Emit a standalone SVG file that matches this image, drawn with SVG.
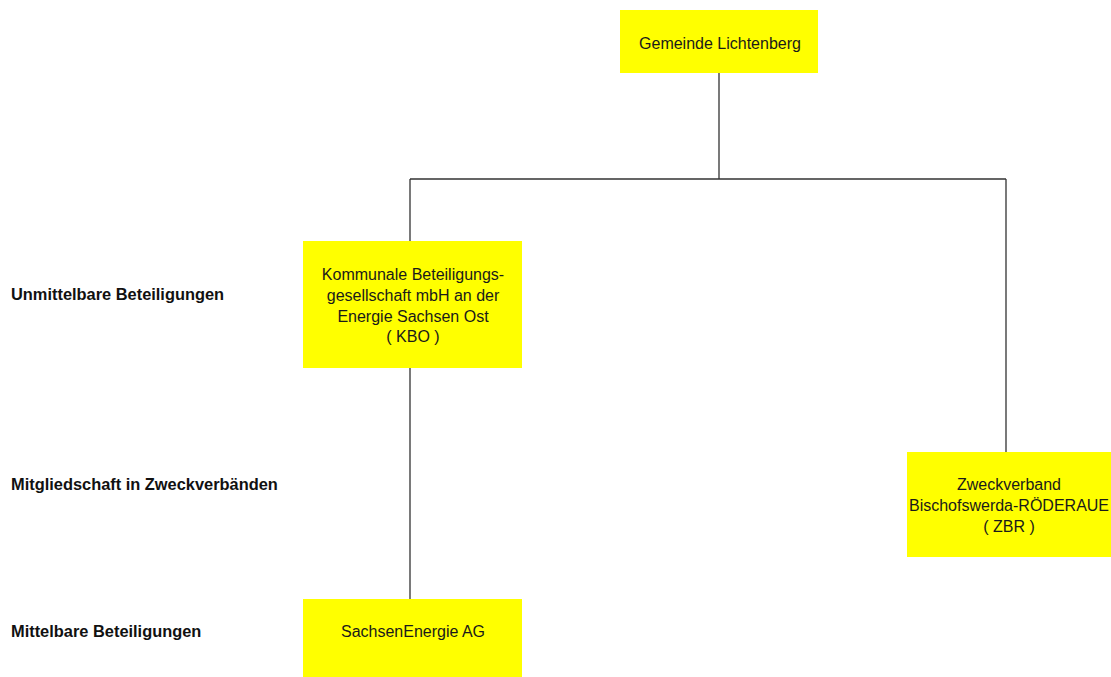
<svg xmlns="http://www.w3.org/2000/svg" width="1111" height="677" viewBox="0 0 1111 677">
<style>
.box{fill:#ffff00;stroke:none}
.t{font-family:"Liberation Sans",Arial,sans-serif;font-size:16px;fill:#1a1a1a;text-anchor:middle}
.lbl{font-family:"Liberation Sans",Arial,sans-serif;font-size:16.4px;font-weight:bold;fill:#111}
.c{stroke:#333;stroke-width:1.3;fill:none}
</style>
<rect width="1111" height="677" fill="#fff"/>
<g id="connectors">
<path class="c" d="M719 73V179M410 179H1006M410 179V241M1006 179V452M410 368V599"/>
</g>
<g id="gemeinde">
<rect class="box" x="620" y="10" width="198" height="63"/>
<text class="t" x="720" y="49">Gemeinde Lichtenberg</text>
</g>
<g id="kbo">
<rect class="box" x="303" y="241" width="219" height="127"/>
<text class="t" x="413" y="280">Kommunale Beteiligungs-</text>
<text class="t" x="413" y="301">gesellschaft mbH an der</text>
<text class="t" x="413" y="321.5">Energie Sachsen Ost</text>
<text class="t" x="413" y="342">( KBO )</text>
</g>
<g id="zbr">
<rect class="box" x="907" y="452" width="204" height="105"/>
<text class="t" x="1009" y="490">Zweckverband</text>
<text class="t" x="1009" y="511">Bischofswerda-RÖDERAUE</text>
<text class="t" x="1009" y="532">( ZBR )</text>
</g>
<g id="sachsenenergie">
<rect class="box" x="303" y="599" width="219" height="78"/>
<text class="t" x="413" y="637">SachsenEnergie AG</text>
</g>
<g id="labels">
<text class="lbl" x="11" y="300">Unmittelbare Beteiligungen</text>
<text class="lbl" x="11" y="490">Mitgliedschaft in Zweckverbänden</text>
<text class="lbl" x="11" y="637">Mittelbare Beteiligungen</text>
</g>
</svg>
